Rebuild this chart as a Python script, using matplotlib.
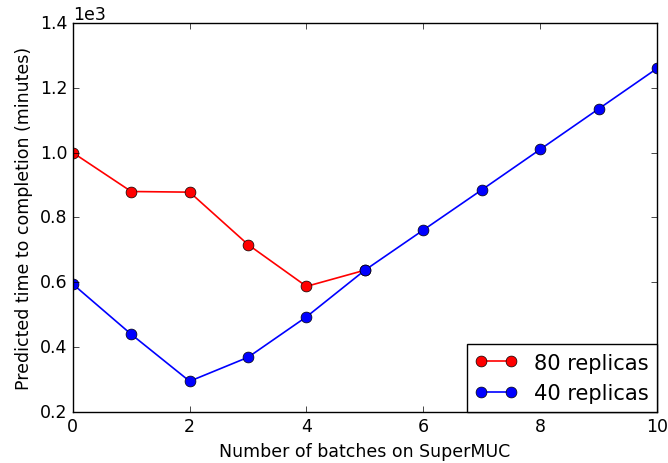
import matplotlib
matplotlib.use("Agg")
import matplotlib.pyplot as plt

plt.style.use("classic")
plt.rcParams['font.family'] = ['DejaVu Sans']

batches_80 = [0, 1, 2, 3, 4, 5]
time_80 = [1000, 880, 878, 716, 587, 637]
batches_40 = [0, 1, 2, 3, 4, 5, 6, 7, 8, 9, 10]
time_40 = [594, 439, 294, 368, 493, 637, 761, 885, 1010, 1135, 1260]

fig = plt.figure(figsize=(6.68, 4.64), dpi=100, facecolor="white")
ax = fig.add_axes([0.109, 0.1106, 0.8745, 0.8374])
ax.set_facecolor("white")

ax.plot(batches_80, time_80, "-o", color="red", markerfacecolor="red",
        markeredgecolor="black", markersize=7.8, linewidth=1.2, label="80 replicas")
ax.plot(batches_40, time_40, "-o", color="blue", markerfacecolor="blue",
        markeredgecolor="black", markersize=7.8, linewidth=1.2, label="40 replicas")

ax.set_xlim(0, 10)
ax.set_ylim(200, 1400)
ax.ticklabel_format(axis="y", style="sci", scilimits=(0, 0))
ax.yaxis.get_offset_text().set_fontsize(12.5)
ax.tick_params(labelsize=12.5)
ax.set_xlabel("Number of batches on SuperMUC", fontsize=12.5)
ax.set_ylabel("Predicted time to completion (minutes)", fontsize=12.5)

leg = ax.legend(loc="lower right", borderaxespad=0, fontsize=15.1, numpoints=2,
                handlelength=2.0, fancybox=False)
leg.get_frame().set_edgecolor("black")

fig.savefig("out.png", dpi=100, facecolor="white")
